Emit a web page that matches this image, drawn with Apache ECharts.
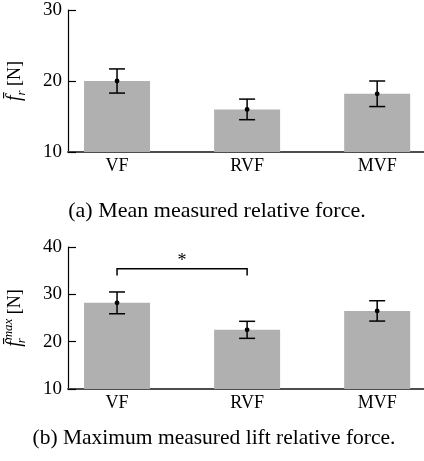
<!DOCTYPE html>
<html lang="en">
<head>
<meta charset="utf-8">
<script src="https://cdn.jsdelivr.net/npm/echarts@6/dist/echarts.min.js"></script>
<style>
  html, body { margin: 0; padding: 0; background: #fff; }
  #chart { width: 424px; height: 461px; }
</style>
</head>
<body>
<div id="chart"></div>
<script>
  // data
  var categories = ['VF', 'RVF', 'MVF'];
  var meanForce = [20.0, 16.0, 18.2];
  var meanForceErr = [1.7, 1.45, 1.8];
  var maxForce = [28.2, 22.5, 26.5];
  var maxForceErr = [2.3, 1.8, 2.15];
  var yTicks1 = [10, 30];   // min, max of top panel
  var yTicks2 = [10, 40];   // min, max of bottom panel
  // significance bracket: from cat, to cat, line height, tick end
  var bracket = [[0, 1, 35.4, 34.0]];
  var bracketMark = '*';
  var bracketMarkY = 37.0;
  var captions = ['(a) Mean measured relative force.', '(b) Maximum measured lift relative force.'];

  var serif = '"Liberation Serif", "DejaVu Serif", serif';
  var chart = echarts.init(document.getElementById('chart'));

  function xAxisFor(g) {
    return {
      type: 'value', gridIndex: g, min: -0.377, max: 2.36,
      splitLine: { show: false },
      axisTick: { show: false },
      axisLine: { onZero: false, lineStyle: { color: '#4d4d4d', width: 2 } },
      axisLabel: {
        customValues: [0, 1, 2],
        formatter: function (v) { return categories[Math.round(v)]; },
        fontFamily: serif, fontSize: 18, color: '#000', margin: 5
      }
    };
  }

  var nameRich = {
    f: { fontFamily: serif, fontStyle: 'italic', fontSize: 20, color: '#000', lineHeight: 26 },
    r: { fontFamily: serif, fontStyle: 'italic', fontSize: 13, color: '#000', lineHeight: 26, verticalAlign: 'bottom' },
    rs: { fontFamily: serif, fontStyle: 'italic', fontSize: 13, color: '#000', lineHeight: 26, verticalAlign: 'bottom', width: 1 },
    m: { fontFamily: serif, fontStyle: 'italic', fontSize: 13, color: '#000', lineHeight: 26, verticalAlign: 'top' },
    u: { fontFamily: serif, fontSize: 18, color: '#000', lineHeight: 26 }
  };

  function yAxisFor(g, ext, name) {
    return {
      type: 'value', gridIndex: g, min: ext[0], max: ext[1], interval: 10,
      splitLine: { show: false },
      axisLine: { show: true, onZero: false, lineStyle: { color: '#000', width: 1.2 } },
      axisTick: { show: true, inside: true, length: 8, lineStyle: { color: '#000', width: 1.2 } },
      axisLabel: { fontFamily: serif, fontSize: 19, color: '#000', margin: 6 },
      name: name, nameLocation: 'middle', nameRotate: 90, nameGap: 40,
      nameTextStyle: { rich: nameRich }
    };
  }

  function errorData(mean, err) {
    return mean.map(function (m, i) { return [i, m, m - err[i], m + err[i]]; });
  }

  function renderError(params, api) {
    var x = api.value(0);
    var pm = api.coord([x, api.value(1)]);
    var pl = api.coord([x, api.value(2)]);
    var ph = api.coord([x, api.value(3)]);
    var w = 8;
    var st = { stroke: '#000', lineWidth: 1.5 };
    return {
      type: 'group',
      children: [
        { type: 'line', shape: { x1: pl[0], y1: pl[1], x2: ph[0], y2: ph[1] }, style: st },
        { type: 'line', shape: { x1: ph[0] - w, y1: ph[1], x2: ph[0] + w, y2: ph[1] }, style: st },
        { type: 'line', shape: { x1: pl[0] - w, y1: pl[1], x2: pl[0] + w, y2: pl[1] }, style: st },
        { type: 'circle', shape: { cx: pm[0], cy: pm[1], r: 2.4 }, style: { fill: '#000' } }
      ]
    };
  }

  function renderBracket(params, api) {
    var x1 = api.value(0), x2 = api.value(1), y = api.value(2), yt = api.value(3);
    var a = api.coord([x1, yt]), b = api.coord([x1, y]), c = api.coord([x2, y]), d = api.coord([x2, yt]);
    var t = api.coord([(x1 + x2) / 2, bracketMarkY]);
    return {
      type: 'group',
      children: [
        { type: 'polyline', shape: { points: [a, b, c, d] }, style: { stroke: '#000', lineWidth: 1.5, fill: null } },
        { type: 'text', style: { x: t[0], y: t[1], text: bracketMark, textAlign: 'center', textVerticalAlign: 'middle', font: '18px ' + serif, fill: '#000' } }
      ]
    };
  }

  var option = {
    animation: false,
    grid: [
      { left: 68, right: 0, top: 10, height: 142, outerBoundsMode: 'none' },
      { left: 68, right: 0, top: 247, height: 142, outerBoundsMode: 'none' }
    ],
    xAxis: [xAxisFor(0), xAxisFor(1)],
    yAxis: [
      yAxisFor(0, yTicks1, '{f|f̄}{r|r}{u| [N]}'),
      yAxisFor(1, yTicks2, '{f|f̄}{rs|r}{m|max}{u| [N]}')
    ],
    series: [
      {
        type: 'bar', xAxisIndex: 0, yAxisIndex: 0, barWidth: 66, silent: true,
        itemStyle: { color: '#b0b0b0' },
        data: meanForce.map(function (v, i) { return [i, v]; })
      },
      {
        type: 'custom', xAxisIndex: 0, yAxisIndex: 0, clip: false, silent: true, z: 5,
        renderItem: renderError, data: errorData(meanForce, meanForceErr)
      },
      {
        type: 'bar', xAxisIndex: 1, yAxisIndex: 1, barWidth: 66, silent: true,
        itemStyle: { color: '#b0b0b0' },
        data: maxForce.map(function (v, i) { return [i, v]; })
      },
      {
        type: 'custom', xAxisIndex: 1, yAxisIndex: 1, clip: false, silent: true, z: 5,
        renderItem: renderError, data: errorData(maxForce, maxForceErr)
      },
      {
        type: 'custom', xAxisIndex: 1, yAxisIndex: 1, clip: false, silent: true, z: 5,
        renderItem: renderBracket, data: bracket
      }
    ],
    graphic: [
      { type: 'text', style: { x: 217, y: 211, text: captions[0], textAlign: 'center', textVerticalAlign: 'middle', font: '22px ' + serif, fill: '#000' } },
      { type: 'text', style: { x: 214, y: 438, text: captions[1], textAlign: 'center', textVerticalAlign: 'middle', font: '21.5px ' + serif, fill: '#000' } }
    ]
  };

  chart.setOption(option);
</script>
</body>
</html>
